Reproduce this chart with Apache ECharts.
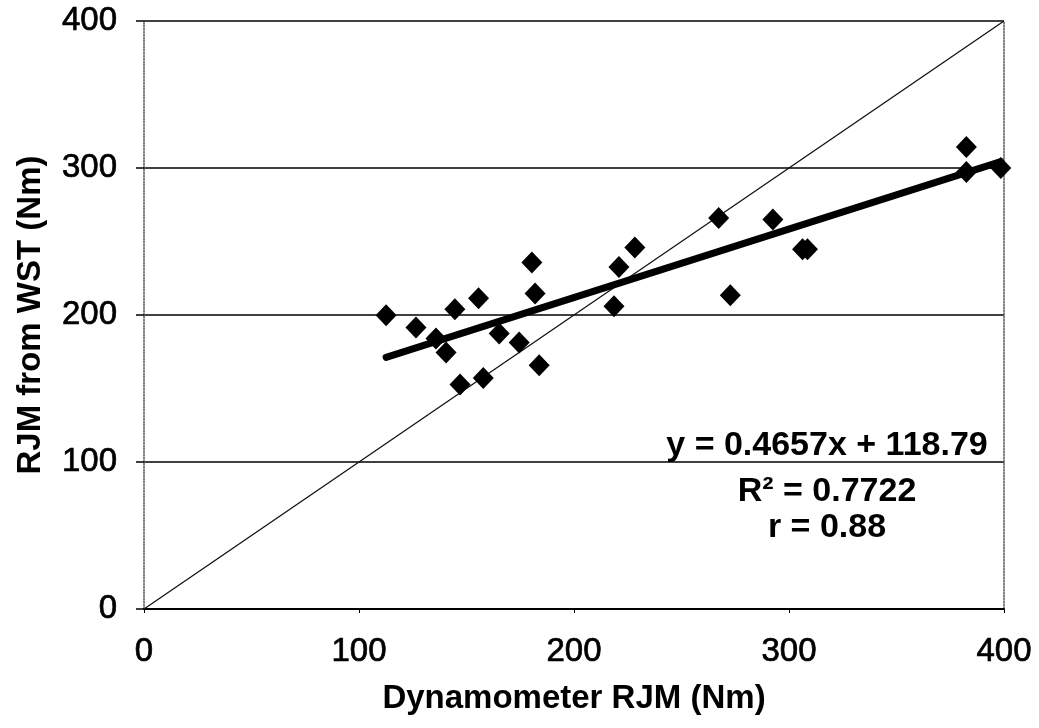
<!DOCTYPE html>
<html>
<head>
<meta charset="utf-8">
<script src="https://cdn.jsdelivr.net/npm/echarts@6/dist/echarts.min.js"></script>
<style>
  html, body { margin: 0; padding: 0; background: #fff; }
  #chart { width: 1039px; height: 728px; }
</style>
</head>
<body>
<div id="chart"></div>
<script>
// dynamometer joint moment vs moment from WST (Nm)
let dynoRJM = [112.6, 126.5, 135.8, 140.5, 144.6, 147.0, 155.6, 157.8, 165.2, 174.5, 180.4, 181.9,
               183.8, 218.6, 220.9, 228.3, 267.3, 272.7, 292.5, 306.3, 308.6, 382.5, 382.5, 398.5];
let wstRJM  = [199.9, 191.5, 184.0, 174.5, 203.9, 152.8, 211.4, 157.2, 187.4, 181.3, 235.7, 214.6,
               165.9, 206.0, 232.7, 245.9, 266.0, 213.5, 264.9, 244.7, 244.7, 314.3, 297.3, 300.0];

// trend line as printed on the chart
let slope = 0.4657;
let intercept = 118.79;
let identity = [[0, 0], [400, 400]];

let axisTicks = [0, 100, 200, 300, 400];
let labels = ['y = 0.4657x + 118.79', 'R² = 0.7722', 'r = 0.88'];

let points = dynoRJM.map((x, i) => [x, wstRJM[i]]);
let xMin = Math.min(...dynoRJM);
let xMax = Math.max(...dynoRJM);
let trend = [[xMin, slope * xMin + intercept], [xMax, slope * xMax + intercept]];

let font = 'Liberation Sans, Arial, sans-serif';

let chart = echarts.init(document.getElementById('chart'), null, {renderer: 'canvas'});

let annot = (text, y) => ({
  type: 'text', x: 827, y: y, z: 10,
  style: {text: text, fontFamily: font, fontSize: 34, fontWeight: 'bold', fill: '#000',
          align: 'center', verticalAlign: 'middle'}
});

// tick labels in the scan are a bit heavier than plain regular
let tickLabel = (margin) => ({
  fontFamily: font, fontSize: 33, color: '#000', margin: margin,
  textBorderColor: '#000', textBorderWidth: 0.7
});

chart.setOption({
  animation: false,
  backgroundColor: '#fff',
  grid: {left: 144, right: 35, top: 21, bottom: 119, containLabel: false},
  xAxis: {
    type: 'value',
    min: axisTicks[0],
    max: axisTicks[axisTicks.length - 1],
    interval: 100,
    name: 'Dynamometer RJM (Nm)',
    nameLocation: 'middle',
    nameGap: 73,
    nameTextStyle: {fontFamily: font, fontSize: 33, fontWeight: 'bold', color: '#000'},
    axisLine: {lineStyle: {color: '#000', width: 2}},
    axisTick: {show: true, length: 4, lineStyle: {color: '#000'}},
    axisLabel: tickLabel(26),
    splitLine: {show: false}
  },
  yAxis: [{
    type: 'value',
    min: axisTicks[0],
    max: axisTicks[axisTicks.length - 1],
    interval: 100,
    name: 'RJM from WST (Nm)',
    nameLocation: 'middle',
    nameGap: 97,
    nameTextStyle: {fontFamily: font, fontSize: 33, fontWeight: 'bold', color: '#000'},
    axisLine: {show: true, lineStyle: {color: '#555', width: 1.5, type: 'dotted'}},
    axisTick: {show: true, length: 8, lineStyle: {color: '#000', width: 1.5}},
    axisLabel: tickLabel(27),
    splitLine: {show: true, lineStyle: {color: '#000', width: 1.5}}
  }, {
    // dotted frame on the right side
    type: 'value',
    position: 'right',
    min: 0, max: 400, interval: 100,
    axisLine: {show: true, lineStyle: {color: '#555', width: 1.5, type: 'dotted'}},
    axisTick: {show: false},
    axisLabel: {show: false},
    splitLine: {show: false}
  }],
  series: [
    {
      type: 'line',
      data: identity,
      symbol: 'none',
      lineStyle: {color: '#111', width: 1.3},
      silent: true,
      z: 1
    },
    {
      type: 'line',
      data: trend,
      symbol: 'none',
      lineStyle: {color: '#000', width: 7, cap: 'round'},
      silent: true,
      z: 2
    },
    {
      type: 'scatter',
      data: points,
      symbol: 'diamond',
      symbolSize: [21, 22],
      itemStyle: {color: '#000', opacity: 1},
      z: 3
    }
  ],
  graphic: [
    annot(labels[0], 446),
    annot(labels[1], 492),
    annot(labels[2], 528)
  ]
});
</script>
</body>
</html>
